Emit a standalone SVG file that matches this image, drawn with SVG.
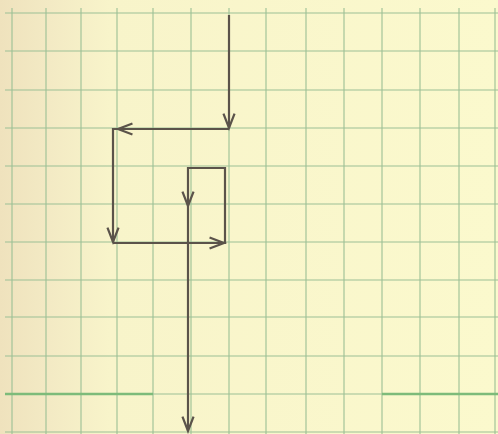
<svg xmlns="http://www.w3.org/2000/svg" width="498" height="434" viewBox="0 0 498 434">
<defs>
<linearGradient id="paper" x1="0" y1="0" x2="1" y2="0">
<stop offset="0" stop-color="#efe2bd"/>
<stop offset="0.1" stop-color="#f3eac4"/>
<stop offset="0.22" stop-color="#f8f4ca"/>
<stop offset="1" stop-color="#fbf9cd"/>
</linearGradient>
<marker id="chev" markerUnits="userSpaceOnUse" markerWidth="20" markerHeight="20" viewBox="-15 -8 18 16" refX="0" refY="0" orient="auto" overflow="visible">
<path d="M-13,-5 L0,0 L-13,5" fill="none" stroke="#5b534a" stroke-width="2"/>
</marker>
<style>
.grid{stroke:#9cc095;stroke-width:1.1;fill:none}
.thick{stroke:#7dbb7a;stroke-width:2.4;fill:none}
.trace{stroke:#5b534a;stroke-width:2.2;fill:none;stroke-linejoin:miter}
</style>
</defs>
<rect width="498" height="434" fill="url(#paper)"/>
<g id="grid" class="grid">
<path d="M12,8V434M46,8V434M81,8V434M117,8V434M153,8V434M191,8V434M229,8V434M266,8V434M306,8V434M344,8V434M382,8V434M420,8V434M459,8V434M495,8V434"/>
<path d="M5,13H498M5,51H498M5,90H498M5,128H498M5,166H498M5,204H498M5,242H498M5,280H498M5,317H498M5,356H498M5,394H498M5,432H498"/>
</g>
<g id="margin-marks" class="thick">
<path d="M5,394H153M382,394H498"/>
</g>
<g id="connectors" class="trace">
<path d="M229,15V128" marker-end="url(#chev)"/>
<path d="M229,129H118" marker-end="url(#chev)"/>
<path d="M118,129H113V242" marker-end="url(#chev)"/>
<path d="M113,243H224" marker-end="url(#chev)"/>
<path d="M225,244V168H188V206" marker-end="url(#chev)"/>
<path d="M188,206V431" marker-end="url(#chev)"/>
</g>
</svg>
